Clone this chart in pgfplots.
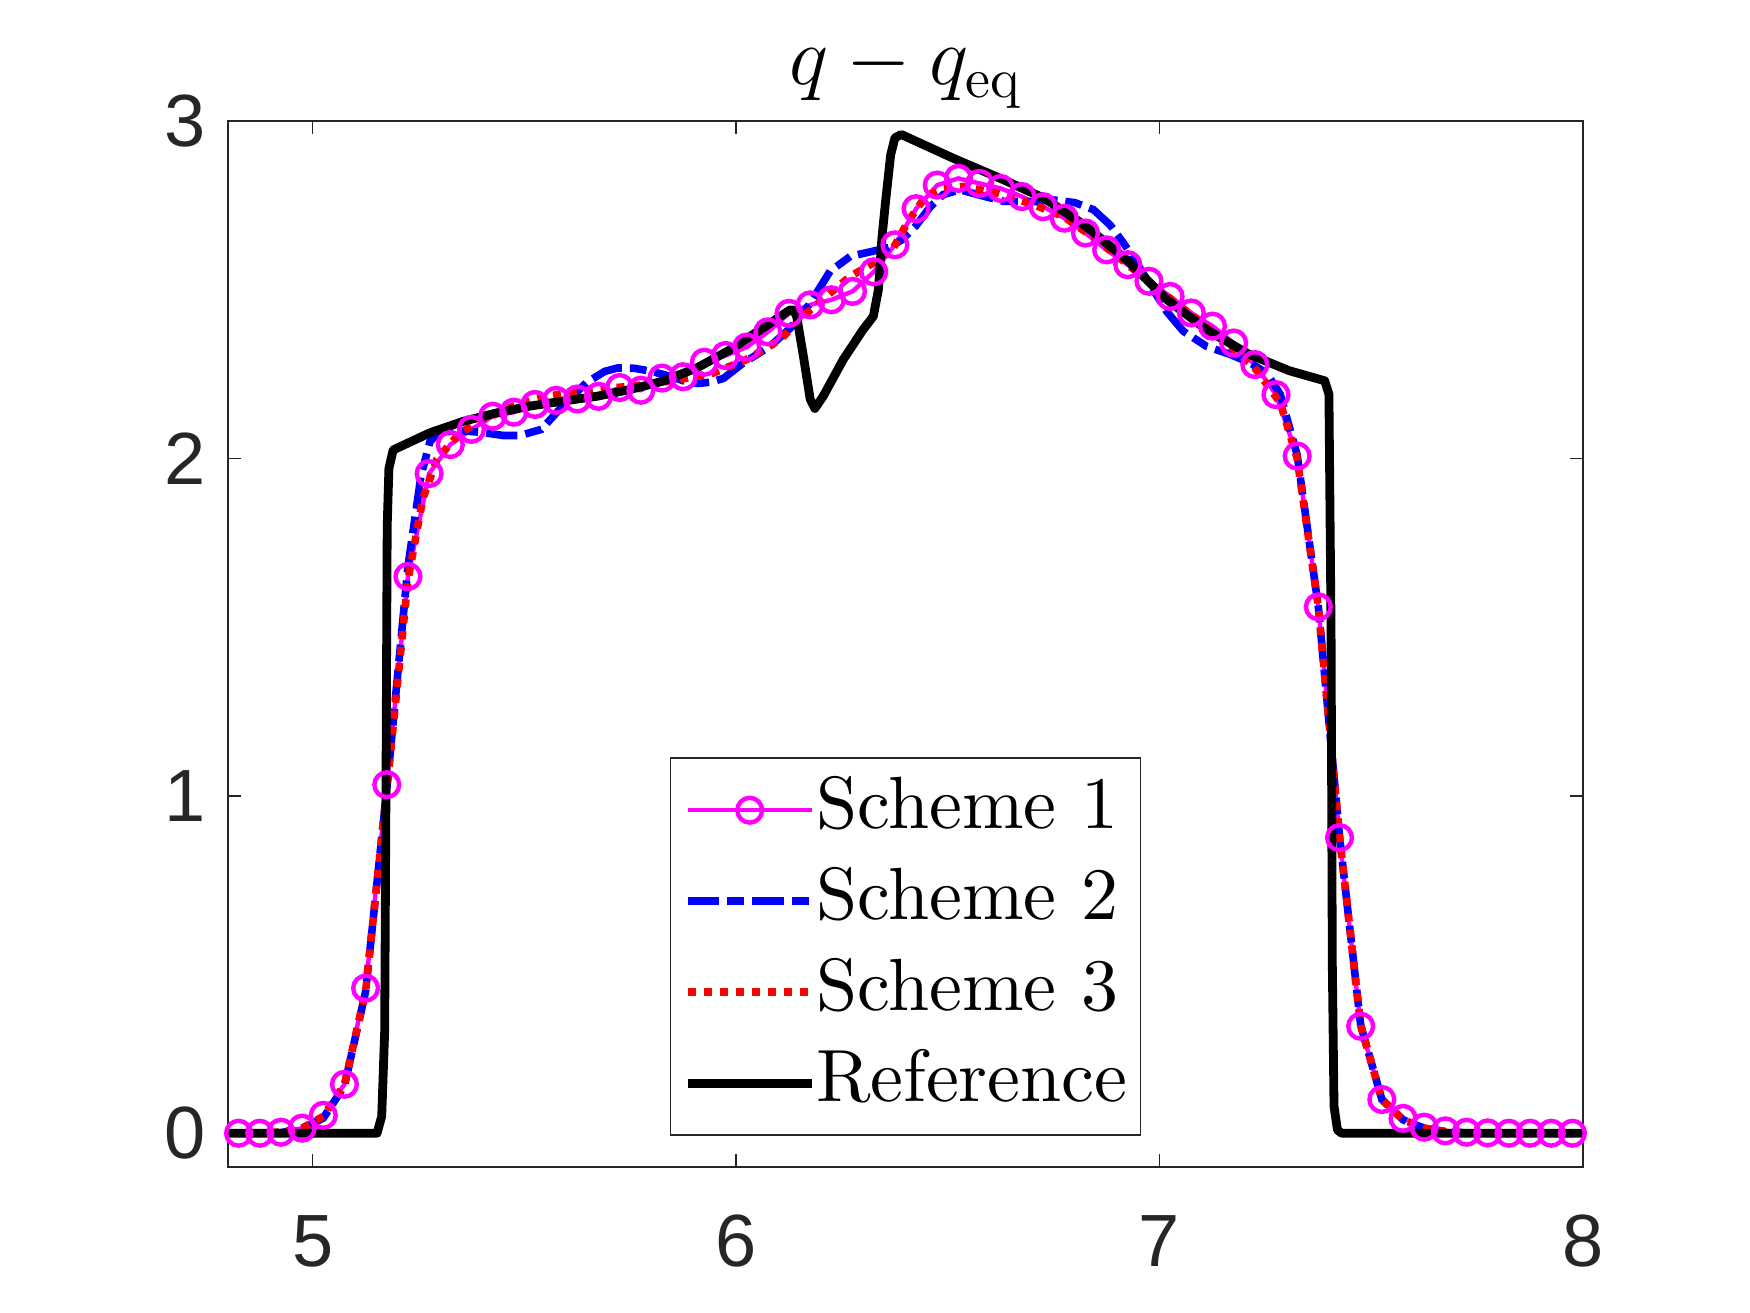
\documentclass[border=0pt]{standalone}
\usepackage{pgfplots}
\pgfplotsset{compat=1.18}
\usepackage{fontspec}
\setmainfont{lmroman10-regular}[Extension=.otf]
\newfontfamily\tickfont{Liberation Sans}
\definecolor{axgray}{rgb}{0.15,0.15,0.15}
\definecolor{mag}{rgb}{1,0,1}
\definecolor{pblue}{rgb}{0,0,1}
\definecolor{pred}{rgb}{1,0,0}

\begin{document}
\begin{tikzpicture}
\useasboundingbox (-57pt,-36.5pt) rectangle (380.5pt,291.75pt);
\begin{axis}[
  at={(0pt,0pt)}, anchor=south west,
  scale only axis, width=338.75pt, height=261.5pt,
  xmin=4.8, xmax=8, ymin=-0.1, ymax=3,
  xtick={5,6,7,8}, ytick={0,1,2,3},
  tick align=inside, major tick length=3.25pt,
  axis line style={draw=axgray, line width=0.4pt},
  every tick/.style={draw=axgray, line width=0.4pt},
  /pgf/number format/assume math mode=true,
  tick label style={font=\tickfont\fontsize{18.5}{18.5}\selectfont, text=axgray},
  xticklabel style={yshift=-8.5pt},
  yticklabel style={xshift=-2pt},
  every axis title shift=0pt,
  title={$q - q_{\mathrm{eq}}$},
  title style={font=\fontsize{20}{24}\selectfont, at={(0.5,1)}, anchor=base, yshift=9pt},
  legend style={
    at={(0.5,0.0296)}, anchor=south,
    draw=axgray, line width=0.4pt, fill=white,
    inner xsep=3.25pt, inner ysep=2pt,
    row sep=0.75pt,
    font=\fontsize{18.5}{22}\selectfont,
    cells={anchor=west},
    nodes={inner sep=0pt, text height=15.5pt, text depth=6.5pt},
    /tikz/every even column/.append style={column sep=3.25pt},
  },
  legend image code/.code={\draw[mark repeat=2,mark phase=2,#1] plot coordinates {(0pt,0pt) (15.5pt,0pt) (31pt,0pt)};},
]

% Scheme 1
\addplot[color=mag, line width=1.1pt, mark=o, mark size=3.1pt, mark options={solid, line width=1.1pt}] coordinates {
(4.825,0)(4.875,0)(4.925,0.003)(4.975,0.015)(5.025,0.053)(5.075,0.145)(5.125,0.43)(5.175,1.033)
(5.225,1.65)(5.275,1.955)(5.325,2.041)(5.375,2.086)(5.425,2.125)(5.475,2.137)(5.525,2.16)(5.575,2.172)
(5.625,2.176)(5.675,2.184)(5.725,2.21)(5.775,2.202)(5.825,2.238)(5.875,2.242)(5.925,2.285)(5.975,2.305)
(6.025,2.33)(6.075,2.375)(6.125,2.43)(6.175,2.455)(6.225,2.47)(6.275,2.495)(6.325,2.553)(6.375,2.633)
(6.425,2.74)(6.475,2.81)(6.525,2.83)(6.575,2.815)(6.625,2.80)(6.675,2.776)(6.725,2.746)(6.775,2.712)
(6.825,2.668)(6.875,2.618)(6.925,2.574)(6.975,2.525)(7.025,2.48)(7.075,2.431)(7.125,2.392)(7.175,2.342)
(7.225,2.278)(7.275,2.189)(7.325,2.007)(7.375,1.56)(7.425,0.876)(7.475,0.317)(7.525,0.10)(7.575,0.044)
(7.625,0.018)(7.675,0.007)(7.725,0.003)(7.775,0.001)(7.825,0)(7.875,0)(7.925,0)(7.975,0)
};
\addlegendentry{Scheme 1}

% Scheme 2
\addplot[color=pblue, line width=1.9pt, dash pattern=on 7.9pt off 2pt on 4.2pt off 2pt] coordinates {
(4.825,0)(4.875,0)(4.925,0.002)(4.975,0.012)(5.025,0.045)(5.075,0.14)(5.125,0.42)(5.175,1.02)
(5.225,1.68)(5.256,1.95)(5.277,2.05)(5.30,2.078)(5.35,2.082)(5.40,2.077)(5.45,2.068)(5.49,2.068)
(5.54,2.086)(5.59,2.155)(5.647,2.225)(5.69,2.258)(5.72,2.268)(5.76,2.267)(5.80,2.258)(5.845,2.243)
(5.88,2.228)(5.91,2.222)(5.94,2.226)(5.97,2.237)(6.017,2.283)(6.08,2.332)(6.127,2.385)(6.175,2.46)
(6.222,2.555)(6.27,2.599)(6.316,2.612)(6.36,2.625)(6.392,2.648)(6.425,2.69)(6.458,2.745)(6.489,2.782)
(6.529,2.796)(6.576,2.78)(6.631,2.762)(6.694,2.761)(6.749,2.766)(6.80,2.758)(6.844,2.737)(6.883,2.692)
(6.915,2.638)(6.946,2.579)(6.985,2.5)(7.017,2.435)(7.056,2.377)(7.111,2.332)(7.167,2.308)(7.214,2.283)
(7.253,2.253)(7.285,2.19)(7.325,2.01)(7.375,1.56)(7.425,0.88)(7.475,0.32)(7.525,0.10)(7.575,0.04)
(7.625,0.015)(7.675,0.005)(7.725,0.001)(7.775,0)(7.975,0)
};
\addlegendentry{Scheme 2}

% Scheme 3
\addplot[color=pred, line width=1.9pt, dash pattern=on 2pt off 2pt] coordinates {
(4.825,0)(4.875,0.001)(4.925,0.004)(4.975,0.015)(5.025,0.05)(5.075,0.145)(5.125,0.42)(5.175,1.02)
(5.225,1.64)(5.26,1.88)(5.293,1.997)(5.348,2.076)(5.411,2.12)(5.474,2.155)(5.553,2.184)(5.631,2.199)
(5.71,2.209)(5.789,2.219)(5.868,2.234)(5.946,2.253)(6.025,2.293)(6.104,2.352)(6.167,2.431)(6.222,2.49)
(6.269,2.539)(6.324,2.579)(6.371,2.623)(6.405,2.70)(6.447,2.776)(6.49,2.80)(6.537,2.806)(6.615,2.786)
(6.694,2.756)(6.773,2.717)(6.852,2.648)(6.93,2.569)(7.009,2.49)(7.088,2.411)(7.167,2.332)(7.222,2.273)
(7.285,2.165)(7.325,2.0)(7.375,1.56)(7.425,0.88)(7.475,0.32)(7.525,0.10)(7.575,0.04)(7.625,0.015)
(7.675,0.005)(7.725,0.001)(7.8,0)(7.975,0)
};
\addlegendentry{Scheme 3}

% Reference solution
\addplot[color=black, line width=2.2pt, line join=round] coordinates {
(4.8,0)(5.152,0)(5.163,0.05)(5.17,0.3)(5.173,1.0)(5.176,1.8)(5.18,1.97)(5.19,2.025)
(5.277,2.076)(5.356,2.11)(5.435,2.135)(5.513,2.155)(5.592,2.17)(5.671,2.184)(5.749,2.204)(5.828,2.229)
(5.907,2.268)(5.986,2.322)(6.064,2.387)(6.127,2.44)(6.135,2.44)(6.143,2.421)(6.159,2.302)(6.175,2.175)
(6.186,2.148)(6.206,2.185)(6.253,2.293)(6.3,2.382)(6.324,2.421)(6.336,2.5)(6.344,2.648)(6.352,2.75)
(6.365,2.90)(6.375,2.95)(6.39,2.96)(6.512,2.89)(6.633,2.825)(6.729,2.77)(6.824,2.69)(6.921,2.59)
(7.018,2.47)(7.113,2.38)(7.209,2.31)(7.306,2.26)(7.39,2.23)(7.40,2.19)(7.405,1.5)(7.408,0.5)
(7.412,0.08)(7.42,0.01)(7.43,0)(8.0,0)
};
\addlegendentry{Reference}

\end{axis}
\end{tikzpicture}
\end{document}
